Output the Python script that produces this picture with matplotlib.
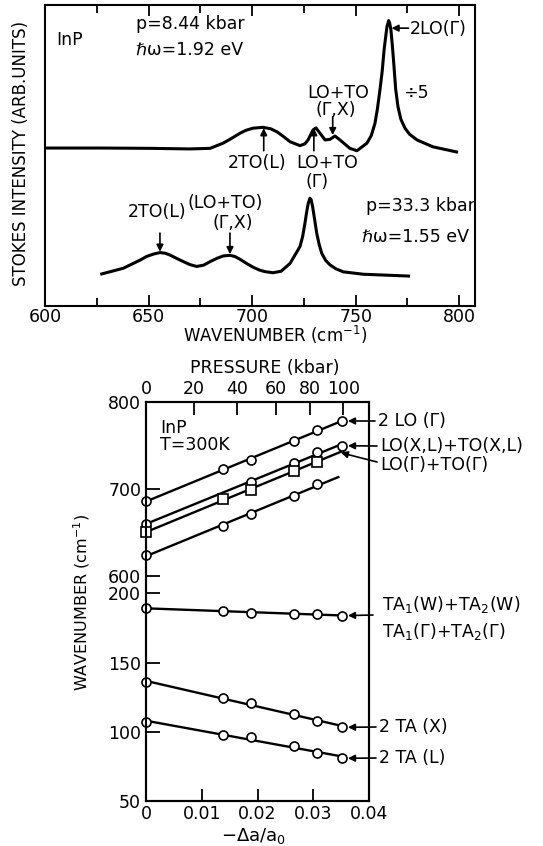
import numpy as np
import matplotlib
matplotlib.use('Agg')
import matplotlib.pyplot as plt

plt.rcParams['font.family'] = ['DejaVu Sans']
plt.rcParams['mathtext.fontset'] = 'dejavusans'
plt.rcParams['mathtext.default'] = 'regular'

# ---------------- data: upper panel (Raman spectra) ----------------
wn_84 = [600.5, 626.6, 650.7, 670.0, 679.7, 685.9, 689.3, 694.1, 697.0, 700.4, 705.2,
         709.0, 712.0, 715.0, 718.3, 723.1, 725.5, 727.0, 729.4, 730.8, 732.8, 735.2,
         737.6, 740.0, 742.4, 747.2, 750.6, 755.4, 757.5, 759.3, 760.5, 761.7, 762.8,
         763.7, 764.4, 765.1, 765.9, 766.4, 767.0, 767.7, 768.5, 769.3, 770.4, 771.8,
         773.8, 776.0, 779.6, 787.3, 798.7]
int_84 = [52.4, 52.4, 52.3, 52.1, 52.3, 54.0, 55.3, 57.3, 58.3, 59.0, 59.3,
          58.8, 57.8, 56.3, 54.5, 53.2, 53.8, 55.1, 58.4, 59.1, 57.3, 55.1,
          55.3, 56.4, 55.1, 52.3, 51.5, 54.0, 56.5, 60.6, 65.5, 71.7, 78.0,
          85.0, 89.0, 92.8, 94.8, 94.0, 91.7, 86.5, 79.5, 72.0, 66.2, 62.0,
          59.0, 57.0, 55.1, 52.8, 51.1]

wn_333 = [627.4, 637.8, 645.9, 649.0, 652.3, 655.5, 658.0, 660.3, 663.5, 666.8, 670.0,
          673.2, 676.5, 679.7, 683.0, 686.1, 689.3, 691.7, 694.1, 697.3, 700.6, 703.5,
          706.0, 710.0, 714.0, 718.3, 723.1, 724.4, 725.5, 726.3, 727.1, 727.9, 728.5,
          729.2, 730.2, 731.2, 732.3, 733.6, 735.5, 737.6, 740.5, 744.0, 753.7, 775.5]
int_333 = [10.5, 12.4, 15.1, 16.3, 17.1, 17.6, 17.4, 16.8, 15.7, 14.6, 13.6,
           13.0, 13.4, 14.6, 15.7, 16.5, 16.7, 16.3, 15.4, 14.0, 12.7, 11.8,
           11.3, 10.9, 11.4, 14.0, 19.6, 23.0, 27.4, 31.0, 34.0, 35.7, 35.2,
           32.9, 28.5, 24.0, 20.5, 17.4, 15.0, 13.5, 12.2, 11.2, 10.4, 9.8]

# ---------------- data: lower panel (wavenumber vs strain) ----------------
strain = [0.0, 0.0139, 0.0188, 0.0266, 0.0306, 0.0351]
lo2_gamma = [686.1, 722.4, 733.1, 754.9, 767.5, 777.9]            # 2 LO(Γ)
strain_xl = [0.0, 0.0188, 0.0266, 0.0306, 0.0351]
lo_to_xl = [659.7, 708.1, 729.3, 741.9, 749.5]                    # LO(X,L)+TO(X,L)
strain_g = [0.0, 0.0139, 0.0188, 0.0266, 0.0306]
lo_to_g = [650.1, 688.4, 698.7, 720.5, 731.2]                     # LO(Γ)+TO(Γ) (squares)
strain_low = [0.0, 0.0139, 0.0188, 0.0266, 0.0306]
to2_l = [624.1, 657.7, 671.1, 692.1, 705.2]                       # lowest optic line
ta_sum = [189.2, 187.2, 186.0, 185.3, 185.0, 183.8]               # TA1+TA2
ta2_x = [135.7, 124.2, 121.0, 112.6, 108.0, 103.2]                # 2 TA(X)
ta2_l = [106.8, 97.7, 96.4, 89.7, 84.7, 80.8]                     # 2 TA(L)
fit_end = {'lo2': 0.0351, 'xl': 0.0351, 'g': 0.0356, 'low': 0.0345,
           'ta': 0.0351, 'tax': 0.0351, 'tal': 0.0351}

pressure_ticks = [0, 20, 40, 60, 80, 100]
pressure_pos = [0.0, 0.00853, 0.01636, 0.02326, 0.02934, 0.03536]
strain_ticks = [0, 0.01, 0.02, 0.03, 0.04]
strain_labels = ['0', '0.01', '0.02', '0.03', '0.04']
wn_ticks = [50, 100, 150, 200, 600, 700, 800]

W, H = 543, 846
fig = plt.figure(figsize=(W / 100, H / 100), dpi=100)


def fa(l, t, r, b):
    return [l / W, 1 - b / H, (r - l) / W, (b - t) / H]


def ftext(x, y, s, **kw):
    kw.setdefault('va', 'center')
    kw.setdefault('fontsize', 12.5)
    fig.text(x / W, 1 - y / H, s, **kw)


FS = 12.5
ARW = dict(arrowstyle='-|>', color='k', lw=1.2, shrinkA=0, shrinkB=0, mutation_scale=10)

# ================= upper panel =================
ax1 = fig.add_axes(fa(45, 5, 475, 305.5))
ax1.plot(wn_84, int_84, color='k', lw=2.2, solid_joinstyle='round')
ax1.plot(wn_333, int_333, color='k', lw=2.2, solid_joinstyle='round')
ax1.set_xlim(600, 807.6)
ax1.set_ylim(0, 100)
ax1.set_yticks([])
ax1.set_xticks([600, 650, 700, 750, 800])
ax1.set_xticks([625, 675, 725, 775], minor=True)
ax1.tick_params(which='both', direction='in', top=True, bottom=True, width=1.3,
                labelsize=FS, pad=1.5)
ax1.tick_params(which='major', length=8)
ax1.tick_params(which='minor', length=5.5)
for s in ax1.spines.values():
    s.set_linewidth(1.5)

ftext(20.7, 153.5, 'STOKES INTENSITY (ARB.UNITS)', rotation=90, ha='center', fontsize=12)
ftext(275, 335, 'WAVENUMBER (cm$^{-1}$)', ha='center', fontsize=12)

ftext(56, 40, 'InP', ha='left')
ftext(136, 24, 'p=8.44 kbar', ha='left')
ftext(136, 50, 'ℏω=1.92 eV', ha='left')
ftext(410, 29, '2LO(Γ)', ha='left')
ftext(403, 93, '÷5', ha='left')
ftext(338, 93, 'LO+TO', ha='center')
ftext(336, 110, '(Γ,X)', ha='center')
ftext(257, 163, '2TO(L)', ha='center')
ftext(327.6, 163, 'LO+TO', ha='center')
ftext(316.6, 182, '(Γ)', ha='center')
ftext(156.7, 212, '2TO(L)', ha='center')
ftext(225, 203, '(LO+TO)', ha='center')
ftext(233, 223, '(Γ,X)', ha='center')
ftext(365.5, 206, 'p=33.3 kbar', ha='left')
ftext(362, 237, 'ℏω=1.55 eV', ha='left')

for head, tail in [((767.3, 92.3), (775.5, 92.3)),
                   ((738.9, 56.7), (738.9, 62.8)),
                   ((705.6, 59.0), (705.6, 51.5)),
                   ((729.8, 59.0), (729.8, 51.5)),
                   ((655.5, 17.9), (655.5, 24.1)),
                   ((689.3, 17.1), (689.3, 24.1))]:
    ax1.annotate('', xy=head, xytext=tail, arrowprops=ARW)

# ================= lower panel =================
brk_v = [50, 200, 600, 800]
brk_p = [0.0, 207.7, 225.0, 399.3]


def fwd(v):
    v = np.asarray(v, dtype=float)
    out = np.interp(v, brk_v, brk_p)
    lo = v < brk_v[0]
    hi = v > brk_v[-1]
    out = np.where(lo, brk_p[0] + (v - brk_v[0]) * 1.3847, out)
    out = np.where(hi, brk_p[-1] + (v - brk_v[-1]) * 0.8715, out)
    return out


def inv(p):
    p = np.asarray(p, dtype=float)
    out = np.interp(p, brk_p, brk_v)
    lo = p < brk_p[0]
    hi = p > brk_p[-1]
    out = np.where(lo, brk_v[0] + (p - brk_p[0]) / 1.3847, out)
    out = np.where(hi, brk_v[-1] + (p - brk_p[-1]) / 0.8715, out)
    return out


ax2 = fig.add_axes(fa(146, 401.7, 369, 801))
ax2.set_yscale('function', functions=(fwd, inv))
ax2.set_xlim(0, 0.04)
ax2.set_ylim(50, 800)

series = [(strain, lo2_gamma, 'o', 'lo2'),
          (strain_xl, lo_to_xl, 'o', 'xl'),
          (strain_g, lo_to_g, 's', 'g'),
          (strain_low, to2_l, 'o', 'low'),
          (strain, ta_sum, 'o', 'ta'),
          (strain, ta2_x, 'o', 'tax'),
          (strain, ta2_l, 'o', 'tal')]
fits = {}
for xs, ys, mk, key in series:
    c = np.polyfit(xs, ys, 1)
    fits[key] = c
    xl = np.array([0.0, fit_end[key]])
    ax2.plot(xl, np.polyval(c, xl), color='k', lw=1.7, zorder=2, clip_on=False)
for xs, ys, mk, key in series:
    ax2.plot(xs, ys, linestyle='none', marker=mk, mfc='white', mec='k',
             ms=7.5 if mk == 's' else 6.5, mew=1.2, zorder=3, clip_on=False)

ax2.set_yticks(wn_ticks)
ax2.set_yticklabels([str(t) for t in wn_ticks])
ax2.yaxis.set_minor_locator(matplotlib.ticker.NullLocator())
ax2.set_xticks(strain_ticks)
ax2.set_xticklabels(strain_labels)
ax2.tick_params(axis='y', direction='in', length=10, width=1.3, labelsize=FS, pad=3.5)
ax2.tick_params(axis='x', direction='in', length=9, width=1.3, labelsize=FS, pad=3)
for s in ax2.spines.values():
    s.set_linewidth(1.5)

ax3 = ax2.twiny()
ax3.set_xlim(0, 0.04)
ax3.set_xticks(pressure_pos)
ax3.set_xticklabels([str(p) for p in pressure_ticks])
ax3.tick_params(axis='x', direction='in', length=9.5, width=1.3, labelsize=FS, pad=3)
for s in ax3.spines.values():
    s.set_linewidth(1.5)

ftext(265, 368, 'PRESSURE (kbar)', ha='center')
ftext(81.7, 602, 'WAVENUMBER (cm$^{-1}$)', rotation=90, ha='center', fontsize=11.5)
ftext(253, 836, '−Δa/a$_0$', ha='center', fontsize=13)
ftext(160, 428, 'InP', ha='left')
ftext(160, 445, 'T=300K', ha='left')

# right-hand labels with arrows
ftext(378, 421, '2 LO (Γ)', ha='left')
ftext(380, 446, 'LO(X,L)+TO(X,L)', ha='left')
ftext(380, 465, 'LO(Γ)+TO(Γ)', ha='left')
ftext(382, 618, 'TA$_1$(W)+TA$_2$(W)\nTA$_1$(Γ)+TA$_2$(Γ)', ha='left', linespacing=1.35)
ftext(379, 727, '2 TA (X)', ha='left')
ftext(379, 758, '2 TA (L)', ha='left')

ARW2 = dict(arrowstyle='-|>', color='k', lw=1.2, shrinkA=0, shrinkB=4.5, mutation_scale=10)
x_g = 0.0347
targets = [((strain[-1], lo2_gamma[-1]), (375, 421)),
           ((strain_xl[-1], lo_to_xl[-1]), (377, 446)),
           ((x_g, float(np.polyval(fits['g'], x_g))), (377, 462)),
           ((strain[-1], ta_sum[-1]), (373, 615)),
           ((strain[-1], ta2_x[-1]), (376, 727)),
           ((strain[-1], ta2_l[-1]), (376, 758))]
for i, (xy, tp) in enumerate(targets):
    props = dict(ARW2)
    if i == 2:
        props['shrinkB'] = 1
    ax2.annotate('', xy=xy, xycoords='data', xytext=(tp[0], H - tp[1]),
                 textcoords='figure pixels', arrowprops=props, annotation_clip=False)

fig.savefig('out.png', dpi=100)
